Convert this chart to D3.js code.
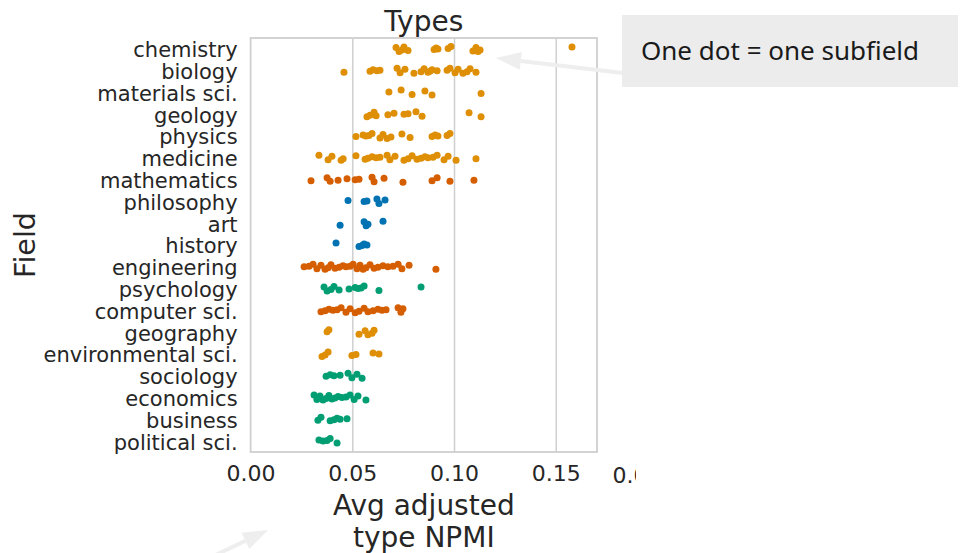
<!DOCTYPE html>
<html><head><meta charset="utf-8">
<script src="https://cdn.jsdelivr.net/npm/d3@7"></script>
<style>body{margin:0;background:#fff}svg{display:block}</style>
</head><body>
<svg id="c" width="973" height="553"></svg>
<script>
const fields = ["chemistry","biology","materials sci.","geology","physics","medicine","mathematics","philosophy","art","history","engineering","psychology","computer sci.","geography","environmental sci.","sociology","economics","business","political sci."];
const fieldGroup = ["life","life","life","life","life","life","formal","humanities","humanities","humanities","formal","social","formal","life","life","social","social","social","social"];
const chemistry = [.0715,.0730,.0744,.0754,.0774,.0902,.0912,.0921,.0971,.0985,.1093,.1108,.1118,.1128,.1580];
const biology = [.0459,.0587,.0602,.0621,.0636,.0720,.0735,.0759,.0803,.0838,.0853,.0872,.0882,.0892,.0917,.0966,.0980,.1005,.1020,.1044,.1064,.1079,.1108];
const materials = [.0680,.0740,.0794,.0857,.0892,.1133];
const geology = [.0572,.0587,.0607,.0617,.0675,.0705,.0754,.0774,.0813,.0843,.1074,.1133];
const physics = [.0518,.0553,.0567,.0582,.0597,.0636,.0651,.0671,.0690,.0744,.0784,.0892,.0907,.0921,.0966,.0980];
const medicine = [.0336,.0381,.0400,.0445,.0455,.0518,.0563,.0577,.0597,.0617,.0636,.0671,.0685,.0710,.0754,.0774,.0794,.0818,.0838,.0857,.0872,.0897,.0917,.0951,.0971,.1010,.1108];
const mathematics = [.0297,.0376,.0391,.0430,.0474,.0514,.0533,.0597,.0607,.0656,.0749,.0892,.0917,.0980,.1098];
const philosophy = [.0479,.0558,.0572,.0621,.0631,.0661];
const art = [.0440,.0558,.0568,.0577,.0651];
const history = [.0420,.0533,.0548,.0558,.0572];
const engineering = [.0263,.0287,.0307,.0326,.0346,.0366,.0381,.0395,.0415,.0435,.0454,.0469,.0489,.0504,.0523,.0538,.0553,.0567,.0587,.0607,.0626,.0651,.0675,.0700,.0725,.0744,.0779,.0911];
const psychology = [.0361,.0376,.0395,.0410,.0435,.0484,.0514,.0528,.0543,.0558,.0631,.0838];
const computerSci = [.0346,.0366,.0385,.0405,.0425,.0445,.0469,.0489,.0514,.0533,.0558,.0577,.0602,.0626,.0646,.0666,.0725,.0739,.0749];
const geography = [.0376,.0385,.0533,.0563,.0577,.0597,.0607];
const environmental = [.0351,.0366,.0381,.0498,.0518,.0602,.0631];
const sociology = [.0371,.0391,.0410,.0440,.0479,.0498,.0523,.0548];
const economics = [.0312,.0326,.0341,.0356,.0371,.0385,.0400,.0415,.0430,.0449,.0469,.0489,.0509,.0528,.0567];
const business = [.0331,.0346,.0391,.0410,.0425,.0440,.0474];
const politicalSci = [.0336,.0356,.0376,.0391,.0425];
const seriesValues = [chemistry,biology,materials,geology,physics,medicine,mathematics,philosophy,art,history,engineering,psychology,computerSci,geography,environmental,sociology,economics,business,politicalSci];
const tickValues = [0, 0.05, 0.10, 0.15];
const title = "Types";
const xLabel = ["Avg adjusted","type NPMI"];
const yLabel = "Field";
const note = "One dot = one subfield";

const groupColor = {life:"#de8f05", formal:"#d55e00", humanities:"#0173b2", social:"#029e73"};
const svg = d3.select("#c");
const L = 250.6, R = 597, T = 38, B = 452;
const x = d3.scaleLinear().domain([0, 0.1703]).range([L, R]);
const y = d3.scaleBand().domain(fields).range([T, B]);
const gridCol = "#cfcfcf";
const FONT = "DejaVu Sans, sans-serif";

// grid
svg.append("g").attr("transform", `translate(0,${B})`)
  .call(d3.axisBottom(x).tickValues(tickValues.slice(1)).tickSize(-(B - T)).tickFormat(""))
  .call(g => g.select(".domain").remove())
  .call(g => g.selectAll("line").attr("stroke", gridCol).attr("stroke-width", 1.5));
// frame
svg.append("rect").attr("x", L).attr("y", T).attr("width", R - L).attr("height", B - T)
  .attr("fill", "none").attr("stroke", gridCol).attr("stroke-width", 1.8);

// x tick labels
svg.append("g").attr("transform", `translate(0,${B})`)
  .call(d3.axisBottom(x).tickValues(tickValues).tickSize(0).tickPadding(13).tickFormat(d3.format(".2f")))
  .call(g => g.select(".domain").remove())
  .call(g => g.selectAll("text").attr("font-family", FONT).attr("font-size", 22).attr("fill", "#262626"));
// clipped neighbouring label
svg.append("clipPath").attr("id", "cl").append("rect").attr("x", 0).attr("y", 0).attr("width", 636).attr("height", 553);
svg.append("text").attr("clip-path", "url(#cl)").attr("x", 637).attr("y", B + 31)
  .attr("text-anchor", "middle").attr("font-family", FONT).attr("font-size", 22).attr("fill", "#262626").text("0.00");

// y labels
svg.append("g").attr("transform", `translate(${L},0)`)
  .call(d3.axisLeft(y).tickSize(0).tickPadding(13))
  .call(g => g.select(".domain").remove())
  .call(g => g.selectAll("text").attr("font-family", FONT).attr("font-size", 21).attr("dy", "0.4em").attr("fill", "#262626"));

// dots
const jit = [-1.5, 1.5, -0.5, 2.5, 0.5, -2.5, 1, -1, 2, -2, 0];
fields.forEach((f, i) => {
  svg.append("g").selectAll("circle").data(seriesValues[i]).join("circle")
    .attr("cx", d => x(d))
    .attr("cy", (d, j) => y(f) + y.bandwidth() / 2 + jit[(j * 3 + i) % jit.length])
    .attr("r", 3.5)
    .attr("fill", groupColor[fieldGroup[i]]);
});

// titles
svg.append("text").attr("x", (L + R) / 2).attr("y", 31).attr("text-anchor", "middle")
  .attr("font-family", FONT).attr("font-size", 28).attr("fill", "#262626").text(title);
svg.append("text").selectAll("tspan").data(xLabel).join("tspan")
  .attr("x", (L + R) / 2).attr("y", (d, i) => 515 + i * 32).attr("text-anchor", "middle")
  .attr("font-family", FONT).attr("font-size", 28).attr("fill", "#262626").text(d => d);
svg.append("text").attr("transform", `translate(35,${(T + B) / 2}) rotate(-90)`).attr("text-anchor", "middle")
  .attr("font-family", FONT).attr("font-size", 28.5).attr("fill", "#262626").text(yLabel);

// annotation
const arrowCol = "#eeeeee";
function arrow(x1, y1, x2, y2, hl, hw) {
  const a = Math.atan2(y2 - y1, x2 - x1);
  const bx = x2 - hl * Math.cos(a), by = y2 - hl * Math.sin(a);
  svg.append("line").attr("x1", x1).attr("y1", y1).attr("x2", bx).attr("y2", by)
    .attr("stroke", arrowCol).attr("stroke-width", 4);
  const px = -Math.sin(a) * hw / 2, py = Math.cos(a) * hw / 2;
  svg.append("path").attr("d", `M${x2},${y2}L${bx + px},${by + py}L${bx - px},${by - py}Z`).attr("fill", arrowCol);
}
arrow(640, 75, 496, 58, 25, 18);
arrow(180, 572, 268, 530, 25, 18);
svg.append("rect").attr("x", 622).attr("y", 15).attr("width", 336).attr("height", 72).attr("fill", "#ececec");
svg.append("text").attr("x", 641).attr("y", 60).attr("font-family", "Noto Sans, sans-serif")
  .attr("font-size", 26).attr("fill", "#1a1a1a").text(note);
</script>
</body></html>
